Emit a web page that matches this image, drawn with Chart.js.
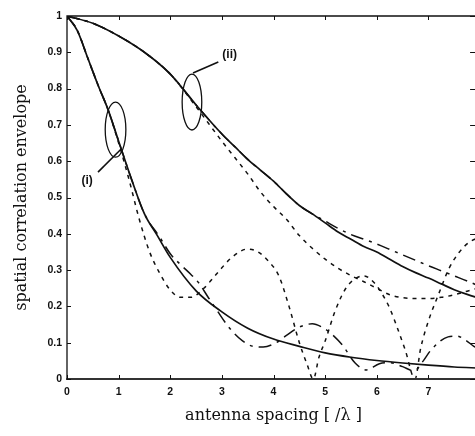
<!DOCTYPE html>
<html>
<head>
<meta charset="utf-8">
<script src="https://cdn.jsdelivr.net/npm/chart.js@4.4.1/dist/chart.umd.min.js"></script>
<style>
  html, body { margin: 0; padding: 0; background: #fff; overflow: hidden; }
  #wrap { width: 490px; height: 436px; }
</style>
</head>
<body>
<div id="wrap"><canvas id="corrChart"></canvas></div>
<script>
// curve (i): solid, dotted and dash-dot variants
const xSolidI = [0, 0.2, 0.4, 0.6, 0.8, 1, 1.25, 1.5, 1.75, 2, 2.5, 3, 3.5, 4, 4.5, 5, 5.5, 6, 6.5, 7, 7.5, 8];
const solidI  = [1, 0.96, 0.885, 0.81, 0.74, 0.655, 0.55, 0.455, 0.395, 0.335, 0.243, 0.185, 0.14, 0.11, 0.09, 0.072, 0.06, 0.051, 0.044, 0.038, 0.033, 0.03];

const xDotI = [0, 0.2, 0.4, 0.6, 0.8, 1, 1.2, 1.4, 1.6, 1.8, 2.0, 2.2, 2.4, 2.65, 2.9, 3.2, 3.5, 3.7, 3.9, 4.1, 4.3, 4.5, 4.65, 4.77,
               4.88, 5.0, 5.2, 5.4, 5.6, 5.75, 5.95, 6.1, 6.25, 6.4, 6.55, 6.74, 6.85, 7.0, 7.2, 7.4, 7.6, 7.8, 8];
const dotI  = [1, 0.96, 0.885, 0.81, 0.74, 0.65, 0.55, 0.44, 0.35, 0.29, 0.245, 0.225, 0.225, 0.25, 0.29, 0.336, 0.358, 0.35, 0.325, 0.285, 0.2, 0.1, 0.04, 0,
               0.06, 0.105, 0.19, 0.25, 0.278, 0.284, 0.265, 0.235, 0.195, 0.14, 0.08, 0, 0.085, 0.16, 0.235, 0.305, 0.35, 0.378, 0.39];

const xDashI = [0, 0.2, 0.4, 0.6, 0.8, 1, 1.25, 1.5, 1.8, 2.0, 2.2, 2.4, 2.55, 2.73, 2.9, 3.15, 3.4, 3.6, 3.8, 4.05, 4.25, 4.5, 4.75, 4.95,
                5.1, 5.33, 5.58, 5.8, 6.05, 6.25, 6.5, 6.72, 6.9, 7.05, 7.38, 7.55, 7.72, 7.88, 8];
const dashI  = [1, 0.96, 0.885, 0.81, 0.74, 0.655, 0.55, 0.455, 0.39, 0.345, 0.315, 0.288, 0.265, 0.226, 0.19, 0.14, 0.105, 0.09, 0.088, 0.1, 0.12, 0.143, 0.152, 0.142,
                0.127, 0.094, 0.044, 0.025, 0.042, 0.045, 0.034, 0.022, 0.05, 0.08, 0.116, 0.118, 0.107, 0.09, 0.08];

// curve (ii): solid, dotted and dash-dot variants
const xII      = [0, 0.5, 1, 1.5, 2, 2.5, 3, 3.25, 3.5, 3.75, 4, 4.25, 4.5, 4.75, 5, 5.25, 5.5, 5.75, 6, 6.25, 6.5, 6.75, 7, 7.25, 7.5, 7.75, 8];
const solidII  = [1, 0.98, 0.945, 0.9, 0.84, 0.755, 0.675, 0.64, 0.605, 0.575, 0.545, 0.51, 0.478, 0.455, 0.43, 0.405, 0.385, 0.365, 0.35, 0.33, 0.31, 0.293, 0.278, 0.262, 0.246, 0.233, 0.222];
const dotII    = [1, 0.98, 0.945, 0.9, 0.84, 0.75, 0.655, 0.61, 0.565, 0.515, 0.475, 0.44, 0.395, 0.36, 0.33, 0.305, 0.285, 0.268, 0.25, 0.232, 0.224, 0.222, 0.222, 0.225, 0.232, 0.242, 0.252];
const dashII   = [1, 0.98, 0.945, 0.9, 0.84, 0.755, 0.675, 0.64, 0.605, 0.575, 0.545, 0.51, 0.478, 0.455, 0.435, 0.415, 0.398, 0.385, 0.372, 0.357, 0.342, 0.327, 0.312, 0.298, 0.284, 0.27, 0.255];

const xTicks = [0, 1, 2, 3, 4, 5, 6, 7, 8];
const yTicks = [0, 0.1, 0.2, 0.3, 0.4, 0.5, 0.6, 0.7, 0.8, 0.9, 1];

// annotation ellipses and labels (data units)
const ellipseCx = [0.94, 2.42];
const ellipseCy = [0.687, 0.763];
const ellipseRx = [0.2, 0.19];
const ellipseRy = [0.076, 0.077];
const leaderFrom = [[1.03, 0.631], [2.44, 0.843]];
const leaderTo   = [[0.6, 0.57], [2.93, 0.873]];
const labelText  = ["(i)", "(ii)"];
const labelPos   = [[0.39, 0.545], [3.15, 0.893]];

const ink = "#111";

function pts(xs, ys) {
  return xs.map((x, i) => ({ x: x, y: ys[i] }));
}

function line(label, xs, ys, dash, width) {
  return {
    label: label,
    data: pts(xs, ys),
    borderColor: ink,
    borderWidth: width,
    borderDash: dash,
    pointRadius: 0,
    fill: false,
    cubicInterpolationMode: "monotone"
  };
}

const dotted = [4, 5];
const dashDot = [13, 6, 3, 6];

const framePlugin = {
  id: "frame",
  afterDatasetsDraw(chart) {
    const ctx = chart.ctx;
    const a = chart.chartArea;
    const xs = chart.scales.x;
    const ys = chart.scales.y;
    ctx.save();
    ctx.strokeStyle = ink;
    ctx.lineWidth = 1.3;
    ctx.beginPath();
    ctx.moveTo(a.left, a.bottom);
    ctx.lineTo(a.left, a.top);
    ctx.lineTo(a.right, a.top);
    ctx.lineTo(a.right, a.bottom);
    ctx.stroke();
    ctx.lineWidth = 2;
    ctx.strokeStyle = "#333";
    ctx.beginPath();
    ctx.moveTo(a.left - 1, a.bottom);
    ctx.lineTo(a.right, a.bottom);
    ctx.stroke();

    // inward ticks
    ctx.strokeStyle = ink;
    ctx.lineWidth = 1;
    ctx.beginPath();
    xTicks.forEach(v => {
      const px = Math.round(xs.getPixelForValue(v)) + 0.5;
      ctx.moveTo(px, a.bottom); ctx.lineTo(px, a.bottom - 4);
      ctx.moveTo(px, a.top); ctx.lineTo(px, a.top + 4);
    });
    yTicks.forEach(v => {
      const py = Math.round(ys.getPixelForValue(v)) + 0.5;
      ctx.moveTo(a.left, py); ctx.lineTo(a.left + 4, py);
      ctx.moveTo(a.right, py); ctx.lineTo(a.right - 10, py);
    });
    ctx.stroke();

    // ellipses marking the two groups
    ctx.lineWidth = 1.3;
    ellipseCx.forEach((cx, i) => {
      const px = xs.getPixelForValue(cx);
      const py = ys.getPixelForValue(ellipseCy[i]);
      const rx = Math.abs(xs.getPixelForValue(cx + ellipseRx[i]) - px);
      const ry = Math.abs(ys.getPixelForValue(ellipseCy[i] + ellipseRy[i]) - py);
      ctx.beginPath();
      ctx.ellipse(px, py, rx, ry, 0, 0, Math.PI * 2);
      ctx.stroke();
      ctx.beginPath();
      ctx.lineWidth = 1.6;
      ctx.moveTo(xs.getPixelForValue(leaderFrom[i][0]), ys.getPixelForValue(leaderFrom[i][1]));
      ctx.lineTo(xs.getPixelForValue(leaderTo[i][0]), ys.getPixelForValue(leaderTo[i][1]));
      ctx.stroke();
      ctx.lineWidth = 1.3;
    });

    ctx.fillStyle = ink;
    ctx.font = "bold 12px 'Liberation Sans', Arial, sans-serif";
    ctx.textAlign = "center";
    ctx.textBaseline = "middle";
    labelText.forEach((t, i) => {
      ctx.fillText(t, xs.getPixelForValue(labelPos[i][0]), ys.getPixelForValue(labelPos[i][1]));
    });
    ctx.restore();
  }
};

const chart = new Chart(document.getElementById("corrChart"), {
  type: "line",
  data: {
    datasets: [
      line("(i) model", xSolidI, solidI, [], 1.7),
      line("(i) sim a", xDotI, dotI, dotted, 1.5),
      line("(i) sim b", xDashI, dashI, dashDot, 1.5),
      line("(ii) model", xII, solidII, [], 1.7),
      line("(ii) sim a", xII, dotII, dotted, 1.5),
      line("(ii) sim b", xII, dashII, dashDot, 1.5)
    ]
  },
  options: {
    responsive: true,
    maintainAspectRatio: false,
    devicePixelRatio: 1,
    animation: false,
    layout: { padding: { top: 16, right: 6, left: 0, bottom: 0 } },
    plugins: { legend: { display: false }, tooltip: { enabled: false } },
    scales: {
      x: {
        type: "linear",
        min: 0,
        max: 8,
        grid: { display: false, drawTicks: false },
        border: { display: false },
        afterFit: s => { s.height = 57; },
        ticks: {
          stepSize: 1,
          padding: 7,
          color: ink,
          font: { family: "'Liberation Sans', Arial, sans-serif", size: 10.5, weight: "bold" },
          maxRotation: 0
        },
        title: {
          display: true,
          text: "antenna spacing [ /λ ]",
          color: ink,
          font: { family: "'DejaVu Serif', serif", size: 16 },
          padding: { top: 0, bottom: 11 }
        }
      },
      y: {
        min: 0,
        max: 1,
        grid: { display: false, drawTicks: false },
        border: { display: false },
        afterFit: s => { s.width = 67; },
        ticks: {
          stepSize: 0.1,
          padding: 5,
          color: ink,
          font: { family: "'Liberation Sans', Arial, sans-serif", size: 10.5, weight: "bold" },
          callback: v => (v === 0 || v === 1) ? String(v) : v.toFixed(1)
        },
        title: {
          display: true,
          text: "spatial correlation envelope",
          color: ink,
          font: { family: "'DejaVu Serif', serif", size: 16 },
          padding: { top: 12, bottom: 0 }
        }
      }
    }
  },
  plugins: [framePlugin]
});
</script>
</body>
</html>
